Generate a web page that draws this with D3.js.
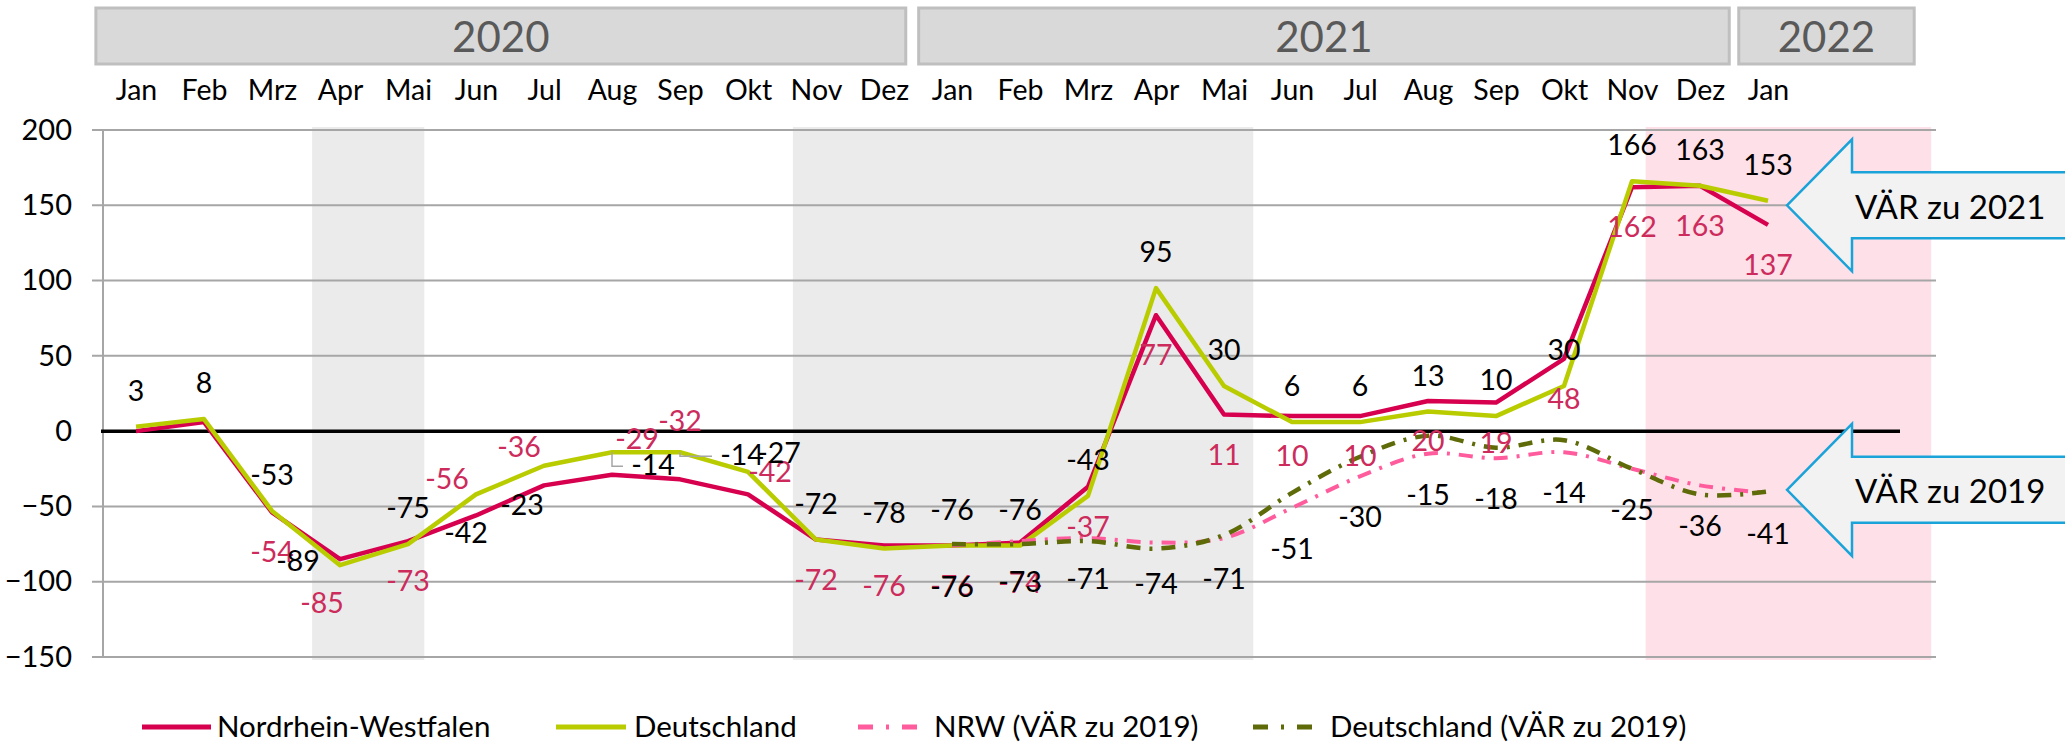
<!DOCTYPE html>
<html>
<head>
<meta charset="utf-8">
<script src="https://cdn.jsdelivr.net/npm/d3@7"></script>
<style>
  body { margin: 0; background: #fff; }
  svg { display: block; font-family: Lato, "Liberation Sans", sans-serif; }
</style>
</head>
<body>
<script>
// data
var months = ['Jan', 'Feb', 'Mrz', 'Apr', 'Mai', 'Jun', 'Jul', 'Aug', 'Sep', 'Okt', 'Nov', 'Dez',
              'Jan', 'Feb', 'Mrz', 'Apr', 'Mai', 'Jun', 'Jul', 'Aug', 'Sep', 'Okt', 'Nov', 'Dez', 'Jan'];
var nrw = [0, 6, -54, -85, -73, -56, -36, -29, -32, -42, -72, -76,
           -76, -74, -37, 77, 11, 10, 10, 20, 19, 48, 162, 163, 137];
var deutschland = [3, 8, -53, -89, -75, -42, -23, -14, -14, -27, -72, -78,
                   -76, -76, -43, 95, 30, 6, 6, 13, 10, 30, 166, 163, 153];
var nrw2019 = [null, null, null, null, null, null, null, null, null, null, null, null,
               -76, -73, -71, -74, -71, -51, -30, -15, -18, -14, -25, -36, -41];
var de2019 = [null, null, null, null, null, null, null, null, null, null, null, null,
              -75, -75, -73, -78, -69, -41, -17, -3, -11, -6, -25, -42, -40];
var yTicks = [-150, -100, -50, 0, 50, 100, 150, 200];
var years = ['2020', '2021', '2022'];
var legendNames = ['Nordrhein-Westfalen', 'Deutschland', 'NRW (VÄR zu 2019)', 'Deutschland (VÄR zu 2019)'];
var arrowTexts = ['VÄR zu 2021', 'VÄR zu 2019'];

// layout
var width = 2065, height = 744;
var font = 'Lato, "Liberation Sans", sans-serif';
var yearSpans = [[-0.59, 11.32], [11.51, 23.43], [23.57, 26.15]];
var shades = [[2.59, 4.24, '#ebebeb'], [9.66, 16.43, '#ebebeb'], [22.2, 26.4, '#fde0e8']];
var arrowAt = [150, -39];

var x = d3.scaleLinear().domain([0, 24]).range([136, 1768]);
var y = d3.scaleLinear().domain([-150, 200]).range([657, 130]);

var svg = d3.select('body').append('svg')
  .attr('width', width).attr('height', height)
  .attr('viewBox', [0, 0, width, height].join(' '));

// shaded periods
svg.selectAll('.shade').data(shades).enter().append('rect')
  .attr('class', 'shade')
  .attr('x', function(d) { return x(d[0]); })
  .attr('width', function(d) { return x(d[1]) - x(d[0]); })
  .attr('y', 127).attr('height', 533)
  .attr('fill', function(d) { return d[2]; });

// gridlines
svg.selectAll('.grid').data(yTicks.filter(function(t) { return t !== 0; })).enter().append('line')
  .attr('class', 'grid')
  .attr('x1', 92).attr('x2', 1936)
  .attr('y1', y).attr('y2', y)
  .attr('stroke', '#a6a6a6').attr('stroke-width', 2);

svg.append('line')
  .attr('x1', 103).attr('x2', 103).attr('y1', y(200)).attr('y2', y(-150))
  .attr('stroke', '#a6a6a6').attr('stroke-width', 2);

svg.append('line')
  .attr('x1', 101).attr('x2', 1900).attr('y1', y(0)).attr('y2', y(0))
  .attr('stroke', '#000').attr('stroke-width', 3.5);

// y axis labels
var yAxis = d3.axisLeft(y).tickValues(yTicks).tickSize(0).tickPadding(0);
svg.append('g').attr('transform', 'translate(72,0)').call(yAxis)
  .call(function(g) { g.select('.domain').remove(); })
  .selectAll('text').attr('font-family', font).attr('font-size', 29).attr('fill', '#000');

// month labels
var xAxis = d3.axisTop(x).tickValues(d3.range(months.length)).tickSize(0).tickPadding(0)
  .tickFormat(function(i) { return months[i]; });
svg.append('g').attr('transform', 'translate(0,100)').call(xAxis)
  .call(function(g) { g.select('.domain').remove(); })
  .selectAll('text').attr('font-family', font).attr('font-size', 28.5).attr('fill', '#000');

// year boxes
var yb = svg.selectAll('.year').data(years).enter().append('g').attr('class', 'year');
yb.append('rect')
  .attr('x', function(d, i) { return x(yearSpans[i][0]); })
  .attr('width', function(d, i) { return x(yearSpans[i][1]) - x(yearSpans[i][0]); })
  .attr('y', 8).attr('height', 56)
  .attr('fill', '#d9d9d9').attr('stroke', '#bfbfbf').attr('stroke-width', 3);
yb.append('text')
  .attr('x', function(d, i) { return (x(yearSpans[i][0]) + x(yearSpans[i][1])) / 2; })
  .attr('y', 37).attr('dy', '0.35em')
  .attr('text-anchor', 'middle').attr('font-family', font).attr('font-size', 42)
  .attr('fill', '#595959').text(function(d) { return d; });

// lines
var straight = d3.line().defined(function(d) { return d != null; })
  .x(function(d, i) { return x(i); }).y(function(d) { return y(d); });
var smooth = d3.line().defined(function(d) { return d != null; })
  .x(function(d, i) { return x(i); }).y(function(d) { return y(d); })
  .curve(d3.curveCatmullRom.alpha(0.5));

var series = [
  { values: nrw, color: '#d6004f', width: 4.5, dash: null, line: straight },
  { values: deutschland, color: '#b9cc00', width: 4.5, dash: null, line: straight },
  { values: nrw2019, color: '#ff5c9d', width: 4, dash: '14,9,3,9', line: smooth },
  { values: de2019, color: '#5e6b08', width: 4.5, dash: '14,9,3,9', line: smooth }
];

svg.selectAll('.series').data(series).enter().append('path')
  .attr('class', 'series')
  .attr('d', function(d) { return d.line(d.values); })
  .attr('fill', 'none')
  .attr('stroke', function(d) { return d.color; })
  .attr('stroke-width', function(d) { return d.width; })
  .attr('stroke-dasharray', function(d) { return d.dash; })
  .attr('stroke-linejoin', 'round');

// data labels (offsets in px from the point)
var nrwOffsets = { 0: null, 1: null, 3: [-18, 44], 5: [-29, -36], 6: [-25, -38], 7: [25, -36], 8: [0, -58], 9: [22, -22] };
var deOffsets = { 3: [-42, -4], 5: [-10, 39], 6: [-22, 39], 7: [41, 13], 8: [62, 3], 9: [31, -19] };
var leaders = [7, 8];

function labels(values, offsets, def, color) {
  var pts = [];
  values.forEach(function(v, i) {
    if (v == null) return;
    var o = i in offsets ? offsets[i] : def;
    if (!o) return;
    pts.push({ i: i, v: v, px: x(i), py: y(v), lx: x(i) + o[0], ly: y(v) + o[1] });
  });
  svg.append('g').selectAll('text').data(pts).enter().append('text')
    .attr('x', function(d) { return d.lx; })
    .attr('y', function(d) { return d.ly; })
    .attr('dy', '0.35em')
    .attr('text-anchor', 'middle').attr('font-family', font).attr('font-size', 28.5)
    .attr('fill', color).text(function(d) { return d.v; });
  return pts;
}

labels(nrw, nrwOffsets, [0, 40], '#cc2b5c');
var dePts = labels(deutschland, deOffsets, [0, -36], '#000');
labels(nrw2019, {}, [0, 41], '#000');

svg.append('g').selectAll('path').data(dePts.filter(function(d) { return leaders.indexOf(d.i) >= 0; }))
  .enter().append('path')
  .attr('d', function(d) { return 'M' + d.px + ',' + d.py + 'V' + (d.ly + 1) + 'H' + (d.lx - 30); })
  .attr('fill', 'none').attr('stroke', '#a6a6a6').attr('stroke-width', 1.5);

// callout arrows
var arrows = svg.selectAll('.arrow').data(arrowTexts).enter().append('g').attr('class', 'arrow');
arrows.append('path')
  .attr('d', function(d, i) {
    var cy = y(arrowAt[i]), tip = 1787, base = 1852;
    return 'M' + tip + ',' + cy + 'L' + base + ',' + (cy - 66) + 'V' + (cy - 33) + 'H2080V' + (cy + 33) +
      'H' + base + 'V' + (cy + 66) + 'Z';
  })
  .attr('fill', '#f2f2f2').attr('stroke', '#1aa3d9').attr('stroke-width', 2.5);
arrows.append('text')
  .attr('x', 1855).attr('y', function(d, i) { return y(arrowAt[i]) + 2; }).attr('dy', '0.35em')
  .attr('font-family', font).attr('font-size', 33).attr('fill', '#000')
  .text(function(d) { return d; });

// legend
var legendX = [[142, 211, 217], [556, 626, 634], [858, 918, 934], [1253, 1312, 1330]];
var lg = svg.selectAll('.legend').data(legendNames).enter().append('g').attr('class', 'legend');
lg.append('line')
  .attr('x1', function(d, i) { return legendX[i][0]; })
  .attr('x2', function(d, i) { return legendX[i][1]; })
  .attr('y1', 727).attr('y2', 727)
  .attr('stroke', function(d, i) { return series[i].color; })
  .attr('stroke-width', 5)
  .attr('stroke-dasharray', function(d, i) { return series[i].dash ? '15,13,3,13' : null; });
lg.append('text')
  .attr('x', function(d, i) { return legendX[i][2]; })
  .attr('y', 727).attr('dy', '0.35em')
  .attr('font-family', font).attr('font-size', 29.5).attr('fill', '#000')
  .text(function(d) { return d; });
</script>
</body>
</html>
